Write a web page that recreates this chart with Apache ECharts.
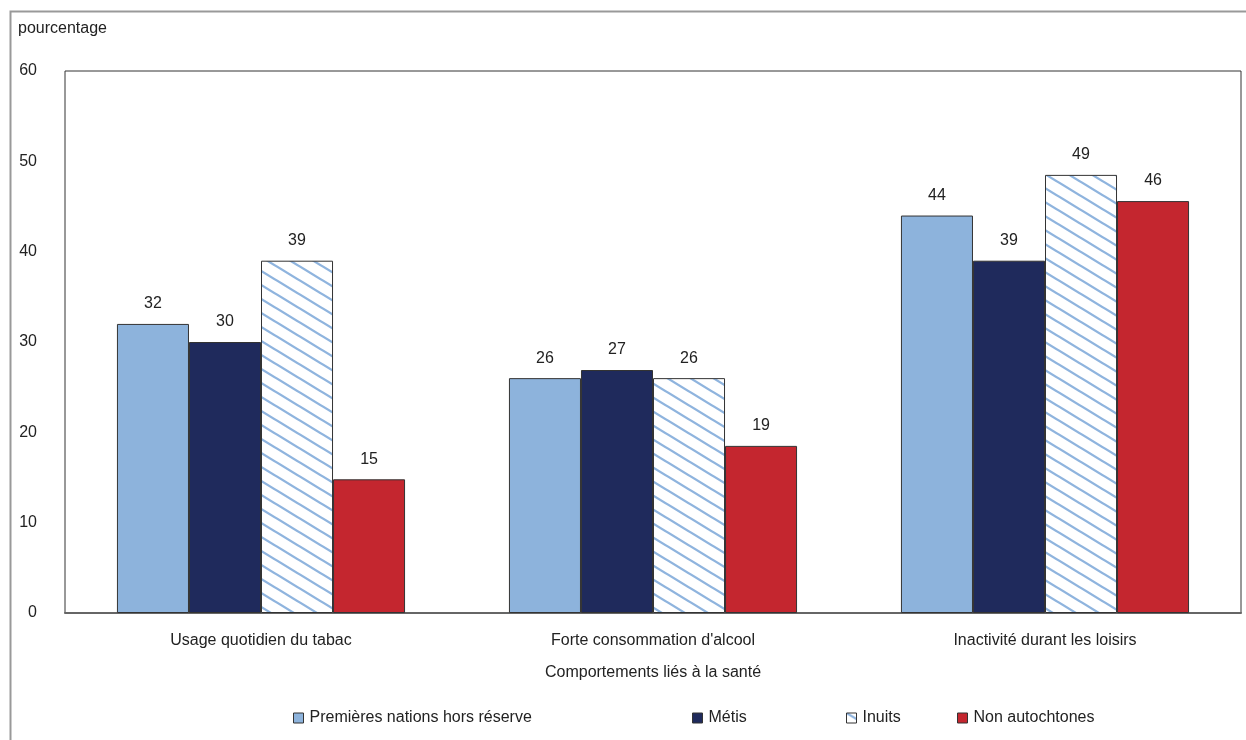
<!DOCTYPE html>
<html>
<head>
<meta charset="utf-8">
<script src="https://cdn.jsdelivr.net/npm/echarts@6/dist/echarts.min.js"></script>
<style>
html,body{margin:0;padding:0;background:#fff;}
#chart{width:1246px;height:740px;}
</style>
</head>
<body>
<div id="chart"></div>
<script>
var categories = ['Usage quotidien du tabac', "Forte consommation d'alcool", 'Inactivité durant les loisirs'];
var seriesNames = ['Premières nations hors réserve', 'Métis', 'Inuits', 'Non autochtones'];
var premieresNations = [32, 26, 44];
var metis = [30, 26.9, 39];
var inuits = [39, 26, 48.5];
var nonAutochtones = [14.8, 18.5, 45.6];
var yTicks = [0, 10, 20, 30, 40, 50, 60];

var FONT = '"Liberation Sans", Arial, sans-serif';
var FS = 16;
var TXT = '#222';

function hatch() {
  var w = 23, h = 14;
  var c = document.createElement('canvas');
  c.width = w; c.height = h;
  var ctx = c.getContext('2d');
  ctx.fillStyle = '#ffffff';
  ctx.fillRect(0, 0, w, h);
  ctx.strokeStyle = '#8fb4de';
  ctx.lineWidth = 2.3;
  for (var k = -1; k <= 1; k++) {
    ctx.beginPath();
    ctx.moveTo(-w, -h + k * h);
    ctx.lineTo(2 * w, 2 * h + k * h);
    ctx.stroke();
  }
  return c;
}

var colors = ['#8db3dc', '#1f2a5c', {image: hatch(), repeat: 'repeat'}, '#c4262f'];
var dataSets = [premieresNations, metis, inuits, nonAutochtones];
var legendLeft = [293, 692, 846, 957];

var series = seriesNames.map(function (n, i) {
  return {
    name: n,
    type: 'bar',
    data: dataSets[i],
    barGap: '0%',
    barCategoryGap: '26.5%',
    itemStyle: {color: colors[i], borderColor: '#333', borderWidth: 1},
    label: {
      show: true, position: 'top', distance: 12,
      fontFamily: FONT, fontSize: FS, color: TXT,
      formatter: function (p) { return Math.round(p.value); }
    }
  };
});

var legends = seriesNames.map(function (n, i) {
  return {
    data: [n], left: legendLeft[i], top: 710, padding: 0,
    itemWidth: 10, itemHeight: 10, itemGap: 5,
    icon: 'rect',
    itemStyle: {borderColor: '#333', borderWidth: 1},
    textStyle: {fontFamily: FONT, fontSize: FS, color: TXT, padding: [0, 0, 0, 1]},
    selectedMode: false
  };
});

var chart = echarts.init(document.getElementById('chart'), null, {renderer: 'canvas'});
chart.setOption({
  backgroundColor: '#fff',
  animation: false,
  textStyle: {fontFamily: FONT},
  grid: {left: 65, right: 5, top: 71, bottom: 127, show: true, borderColor: '#333', borderWidth: 1, backgroundColor: 'transparent'},
  legend: legends,
  graphic: [
    {type: 'rect', left: 8, top: 9, shape: {width: 1300, height: 800}, style: {fill: 'none', stroke: '#999', lineWidth: 2}, silent: true, z: -1},
    {type: 'text', x: 18, y: 29, style: {text: 'pourcentage', fontFamily: FONT, fontSize: FS, fill: TXT, verticalAlign: 'middle'}}
  ],
  xAxis: {
    type: 'category', data: categories,
    axisLine: {lineStyle: {color: '#666', width: 2}},
    axisTick: {show: false},
    axisLabel: {fontFamily: FONT, fontSize: FS, color: TXT, margin: 20},
    name: 'Comportements liés à la santé', nameLocation: 'middle', nameGap: 52,
    nameTextStyle: {fontFamily: FONT, fontSize: FS, color: TXT}
  },
  yAxis: {
    type: 'value', min: yTicks[0], max: yTicks[yTicks.length - 1], interval: 10,
    axisLine: {show: false}, axisTick: {show: false}, splitLine: {show: false},
    axisLabel: {fontFamily: FONT, fontSize: FS, color: TXT, margin: 28}
  },
  series: series
});
</script>
</body>
</html>
